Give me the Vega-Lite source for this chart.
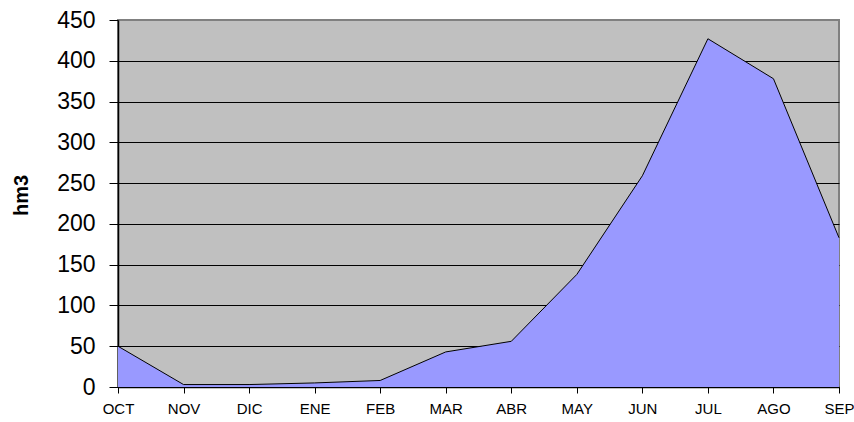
{
  "$schema": "https://vega.github.io/schema/vega-lite/v6.json",
  "width": 721,
  "height": 367,
  "autosize": {"type": "none"},
  "padding": {"left": 118, "top": 20, "right": 15, "bottom": 35},
  "background": "white",
  "config": {
    "view": {"fill": "#C0C0C0", "stroke": "#808080", "strokeWidth": 2},
    "font": "Liberation Sans"
  },
  "data": {
    "values": [
      {"mes": "OCT", "hm3": 50},
      {"mes": "NOV", "hm3": 3},
      {"mes": "DIC", "hm3": 3},
      {"mes": "ENE", "hm3": 5},
      {"mes": "FEB", "hm3": 8},
      {"mes": "MAR", "hm3": 43},
      {"mes": "ABR", "hm3": 56},
      {"mes": "MAY", "hm3": 138},
      {"mes": "JUN", "hm3": 259},
      {"mes": "JUL", "hm3": 427},
      {"mes": "AGO", "hm3": 378},
      {"mes": "SEP", "hm3": 183}
    ]
  },
  "mark": {"type": "area", "color": "#9999FF", "opacity": 1, "line": {"color": "black", "strokeWidth": 1}},
  "encoding": {
    "x": {
      "field": "mes",
      "type": "ordinal",
      "sort": null,
      "scale": {"type": "point", "padding": 0},
      "axis": {
        "title": null,
        "labelAngle": 0,
        "labelFont": "Liberation Sans",
        "labelFontSize": 15,
        "labelColor": "black",
        "labelPadding": 8,
        "tickSize": 6,
        "tickColor": "black",
        "domainColor": "black",
        "domainWidth": 1.5,
        "grid": false
      }
    },
    "y": {
      "field": "hm3",
      "type": "quantitative",
      "scale": {"domain": [0, 450], "nice": false},
      "axis": {
        "title": "hm3",
        "titleFont": "Liberation Sans",
        "titleFontSize": 20,
        "titleFontWeight": "bold",
        "titleColor": "black",
        "titleAngle": -90,
        "titleX": -91,
        "titleY": 175,
        "titleAlign": "center",
        "titleBaseline": "alphabetic",
        "values": [0, 50, 100, 150, 200, 250, 300, 350, 400, 450],
        "labelFont": "Liberation Sans",
        "labelFontSize": 23,
        "labelColor": "black",
        "labelPadding": 14,
        "tickSize": 9,
        "tickColor": "black",
        "domainColor": "black",
        "domainWidth": 1.5,
        "grid": true,
        "gridColor": {"condition": {"test": "datum.value == 450", "value": "#808080"}, "value": "black"},
        "gridOpacity": 1,
        "gridWidth": 1
      }
    }
  }
}
